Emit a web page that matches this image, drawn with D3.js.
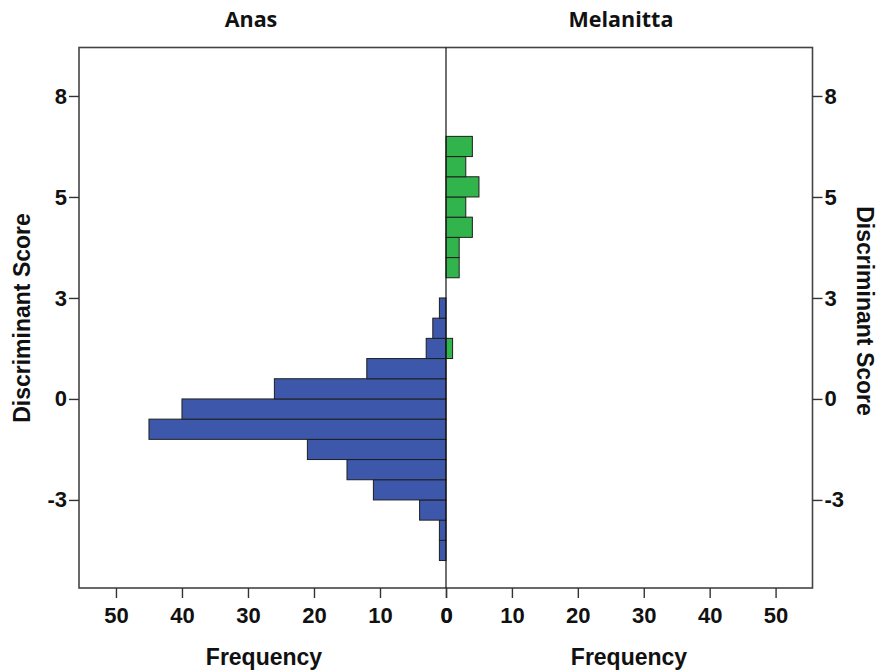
<!DOCTYPE html>
<html><head><meta charset="utf-8">
<script src="https://cdn.jsdelivr.net/npm/d3@7"></script>
<style>
html,body{margin:0;padding:0;background:#fff;}
svg{display:block;}
text{font-family:"Liberation Sans",Arial,sans-serif;}
</style></head>
<body>
<svg id="chart" width="879" height="672"></svg>
<script>
// ---- data ----
const groups = ["Anas", "Melanitta"];
const binLower = [-4, -3.5, -3, -2.5, -2, -1.5, -1, -0.5, 0, 0.5, 1, 1.5, 2, 2.5, 3, 3.5, 4, 4.5, 5, 5.5, 6];
const binWidth = 0.5;
const anasFreq = [1, 1, 4, 11, 15, 21, 45, 40, 26, 12, 3, 2, 1, 0, 0, 0, 0, 0, 0, 0, 0];
const melanittaFreq = [0, 0, 0, 0, 0, 0, 0, 0, 0, 0, 1, 0, 0, 0, 2, 2, 4, 3, 5, 3, 4];
const freqTicks = [0, 10, 20, 30, 40, 50];
const scoreTickValues = [-2.5, 0, 2.5, 5, 7.5];
const scoreTickLabels = ["-3", "0", "3", "5", "8"];
const yTitle = "Discriminant Score";
const xTitle = "Frequency";

(function () {
// ---- layout ----
const svg = d3.select("#chart");
const pL = 79, pR = 812.5, pT = 47.5, pB = 588, mid = 446;
const y = d3.scaleLinear().domain([-4.68, 8.7]).range([pB, pT]);
const xL = d3.scaleLinear().domain([0, 55.6]).range([mid, pL]);
const xR = d3.scaleLinear().domain([0, 55.6]).range([mid, pR]);

const blue = "#3d58aa", green = "#30b44b", edge = "#1e1e1e";

const anasData = binLower.map((b, i) => ({b, v: anasFreq[i]})).filter(d => d.v > 0);
const melData = binLower.map((b, i) => ({b, v: melanittaFreq[i]})).filter(d => d.v > 0);

svg.append("g").selectAll("rect").data(anasData).join("rect")
  .attr("x", d => xL(d.v)).attr("width", d => xL(0) - xL(d.v))
  .attr("y", d => y(d.b + binWidth)).attr("height", d => y(d.b) - y(d.b + binWidth))
  .attr("fill", blue).attr("stroke", edge).attr("stroke-width", 1);

svg.append("g").selectAll("rect").data(melData).join("rect")
  .attr("x", xR(0)).attr("width", d => xR(d.v) - xR(0))
  .attr("y", d => y(d.b + binWidth)).attr("height", d => y(d.b) - y(d.b + binWidth))
  .attr("fill", green).attr("stroke", edge).attr("stroke-width", 1);

// frame
svg.append("rect").attr("x", pL).attr("y", pT).attr("width", pR - pL).attr("height", pB - pT)
  .attr("fill", "none").attr("stroke", "#444").attr("stroke-width", 1.6);
svg.append("line").attr("x1", mid).attr("x2", mid).attr("y1", pT).attr("y2", pB)
  .attr("stroke", "#111").attr("stroke-width", 1.2);

// axes
function styleAxis(g) {
  g.select(".domain").remove();
  g.selectAll(".tick line").attr("stroke", "#333").attr("stroke-width", 1.4);
  g.selectAll(".tick text").attr("fill", "#111").style("font-size", "22px").style("font-weight", "bold")
    .style("font-family", "'Liberation Sans', Arial, sans-serif");
}
svg.append("g").attr("transform", `translate(0,${pB})`)
  .call(d3.axisBottom(xL).tickValues(freqTicks).tickSize(10).tickPadding(9).tickFormat(d3.format("d"))).call(styleAxis);
svg.append("g").attr("transform", `translate(0,${pB})`)
  .call(d3.axisBottom(xR).tickValues(freqTicks).tickSize(10).tickPadding(9).tickFormat(d3.format("d"))).call(styleAxis);
svg.append("g").attr("transform", `translate(${pL},0)`)
  .call(d3.axisLeft(y).tickValues(scoreTickValues).tickSize(10).tickPadding(2)
    .tickFormat((d, i) => scoreTickLabels[i])).call(styleAxis);
svg.append("g").attr("transform", `translate(${pR},0)`)
  .call(d3.axisRight(y).tickValues(scoreTickValues).tickSize(10).tickPadding(2)
    .tickFormat((d, i) => scoreTickLabels[i])).call(styleAxis);

// titles
const headStyle = s => s.style("font-family", "'Open Sans', Lato, sans-serif").style("font-weight", "bold")
  .style("font-size", "21.5px").attr("fill", "#111");
svg.append("text").attr("x", 251).attr("y", 27).attr("text-anchor", "middle").call(headStyle).text(groups[0]);
svg.append("text").attr("x", 621).attr("y", 27).attr("text-anchor", "middle").call(headStyle).text(groups[1]);

const axTitleStyle = s => s.style("font-size", "23px").style("font-weight", "bold").attr("fill", "#111");
svg.append("text").attr("x", 264).attr("y", 665).attr("text-anchor", "middle").call(axTitleStyle).text(xTitle);
svg.append("text").attr("x", 629).attr("y", 665).attr("text-anchor", "middle").call(axTitleStyle).text(xTitle);
svg.append("text").attr("transform", "translate(30,318) rotate(-90)").attr("text-anchor", "middle").call(axTitleStyle).text(yTitle);
svg.append("text").attr("transform", "translate(857,311) rotate(90)").attr("text-anchor", "middle").call(axTitleStyle).text(yTitle);
})();
</script>
</body></html>
